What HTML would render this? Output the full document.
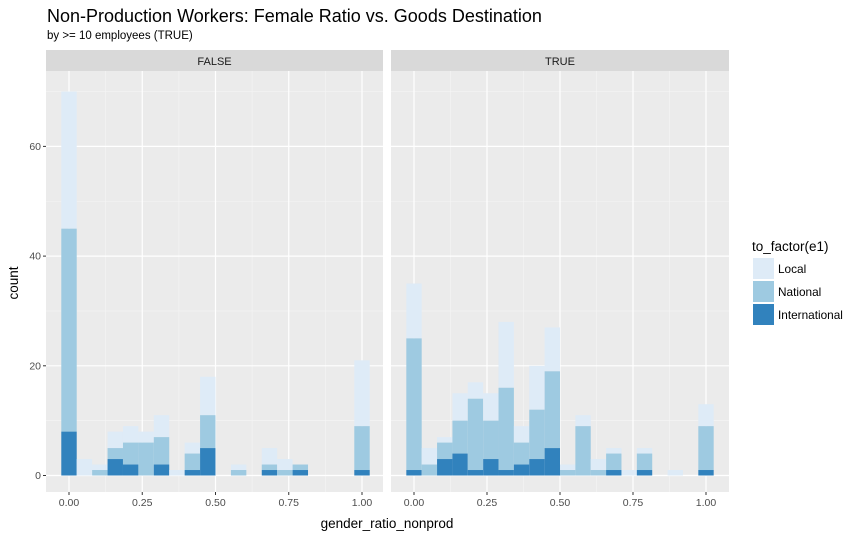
<!DOCTYPE html>
<html><head><meta charset="utf-8"><style>
body{margin:0;background:#fff;font-family:"Liberation Sans",sans-serif}
svg text{font-family:"Liberation Sans",sans-serif}
</style></head><body>
<svg id="chart" width="861" height="539" xmlns="http://www.w3.org/2000/svg">
<text x="47" y="22" font-size="18" fill="#000">Non-Production Workers: Female Ratio vs. Goods Destination</text>
<text x="47" y="39" font-size="11.5" fill="#000">by &gt;= 10 employees (TRUE)</text>
<g id="panels"></g>
<text x="387" y="528" font-size="13.5" text-anchor="middle" fill="#000">gender_ratio_nonprod</text>
<text transform="translate(18,283) rotate(-90)" font-size="13.5" text-anchor="middle" fill="#000">count</text>
<g>
<text x="752" y="251" font-size="13.5" fill="#000">to_factor(e1)</text>
<rect x="753" y="258" width="21" height="21" fill="#deebf7"/>
<text x="778" y="273" font-size="11.8" fill="#000">Local</text>
<rect x="753" y="281" width="21" height="21" fill="#9ecae1"/>
<text x="778" y="296" font-size="11.8" fill="#000">National</text>
<rect x="753" y="304" width="21" height="21" fill="#3182bd"/>
<text x="778" y="319" font-size="11.8" fill="#000">International</text>
</g>
</svg>
<script>
const facets = ["FALSE", "TRUE"];
const binCenters = [0,1,2,3,4,5,6,7,8,9,10,11,12,13,14,15,16,17,18,19].map(k => k/19);
const falseIntl  = [8,0,0,3,2,0,2,0,1,5,0,0,0,1,0,1,0,0,0,1];
const falseNat   = [45,0,1,5,6,6,7,0,4,11,0,1,0,2,1,2,0,0,0,9];
const falseTotal = [70,3,2,8,9,8,11,1,6,18,0,2,0,5,3,2,0,0,0,21];
const trueIntl   = [1,0,3,4,1,3,1,2,3,5,0,0,0,1,0,1,0,0,0,1];
const trueNat    = [25,2,6,10,14,10,16,6,12,19,1,9,1,4,0,4,0,0,0,9];
const trueTotal  = [35,5,7,15,17,15,28,9,20,27,2,11,3,5,1,5,0,1,0,13];
const yTicks = [0,20,40,60];
const xTicks = [0,0.25,0.5,0.75,1];
const xTickLabels = ["0.00","0.25","0.50","0.75","1.00"];

const NS = "http://www.w3.org/2000/svg";
const panelsG = document.getElementById("panels");
function mk(tag, attrs, parent){const e=document.createElementNS(NS,tag);for(const k in attrs)e.setAttribute(k,attrs[k]);parent.appendChild(e);return e;}
const plotTop=71, plotBot=492;
const yScale = v => 475.5 - v*5.485;
const panelsDef = [
  {x0:46, x1:383, z:69, one:362, intl:falseIntl, nat:falseNat, tot:falseTotal},
  {x0:391, x1:729, z:414, one:706, intl:trueIntl, nat:trueNat, tot:trueTotal}
];
panelsDef.forEach((p, pi) => {
  const xs = v => p.z + v*(p.one-p.z);
  const pg = mk("g",{},panelsG);
  
  
  const bg = mk("rect",{x:p.x0,y:plotTop,width:p.x1-p.x0,height:plotBot-plotTop,fill:"#ebebeb"},pg);
  
  
  const strip = mk("rect",{x:p.x0,y:50,width:p.x1-p.x0,height:21,fill:"#d9d9d9"},pg);
  
  
  const st = mk("text",{x:(p.x0+p.x1)/2,y:65,"font-size":"11","text-anchor":"middle",fill:"#1a1a1a"},pg);
  st.textContent = facets[pi];
  
  
  [10,30,50,70].forEach(v=>{mk("line",{x1:p.x0,x2:p.x1,y1:yScale(v),y2:yScale(v),stroke:"#f5f5f5","stroke-width":0.6},pg);});
  [0.125,0.375,0.625,0.875].forEach(v=>{mk("line",{x1:xs(v),x2:xs(v),y1:plotTop,y2:plotBot,stroke:"#f5f5f5","stroke-width":0.6},pg);});
  yTicks.forEach(v=>{mk("line",{x1:p.x0,x2:p.x1,y1:yScale(v),y2:yScale(v),stroke:"#fff","stroke-width":1.2},pg);});
  xTicks.forEach(v=>{mk("line",{x1:xs(v),x2:xs(v),y1:plotTop,y2:plotBot,stroke:"#fff","stroke-width":1.2},pg);});
  const bw = (p.one-p.z)/19;
  binCenters.forEach((c,i)=>{
    const x = xs(c)-bw/2;
    const layers = [[p.nat[i],p.tot[i],"#deebf7","bar-local"],[p.intl[i],p.nat[i],"#9ecae1","bar-national"],[0,p.intl[i],"#3182bd","bar-international"]];
    layers.forEach(L=>{
      if(L[1]>L[0]){
        const r = mk("rect",{x:x,y:yScale(L[1]),width:bw,height:yScale(L[0])-yScale(L[1]),fill:L[2]},pg);
        
        
      }
    });
  });
  xTicks.forEach((v,i)=>{
    mk("line",{x1:xs(v),x2:xs(v),y1:plotBot,y2:plotBot+3,stroke:"#333"},pg);
    const t = mk("text",{x:xs(v),y:plotBot+14,"font-size":"10.5","text-anchor":"middle",fill:"#4d4d4d"},pg);
    t.textContent = xTickLabels[i];
    
    
  });
  if(pi===0){
    yTicks.forEach(v=>{
      mk("line",{x1:p.x0-3,x2:p.x0,y1:yScale(v),y2:yScale(v),stroke:"#333"},pg);
      const t = mk("text",{x:p.x0-5,y:yScale(v)+3.5,"font-size":"10.5","text-anchor":"end",fill:"#4d4d4d"},pg);
      t.textContent = String(v);
      
      
    });
  }
});
</script>
</body></html>
